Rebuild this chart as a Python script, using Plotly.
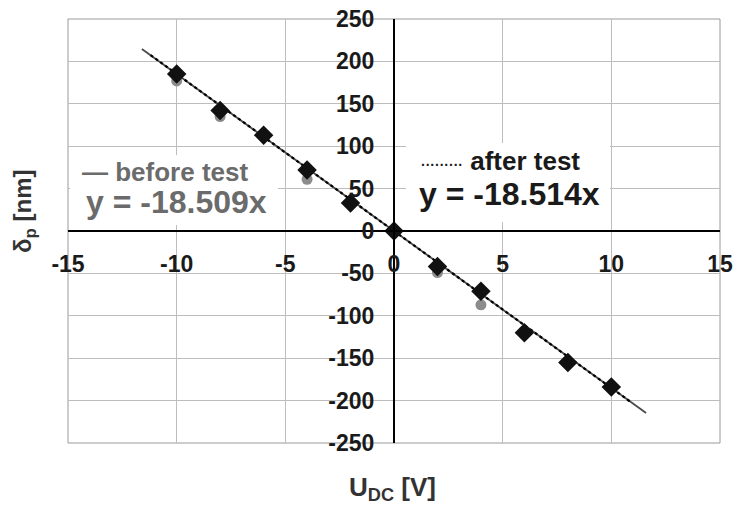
import plotly.graph_objects as go

# ---- data ----
u_dc = [-10, -8, -6, -4, -2, 0, 2, 4, 6, 8, 10]
before_test = [177, 135, 112, 61, 34, 0, -49, -87, -118, -155, -185]
after_test = [185, 142, 113, 72, 33, 0, -42, -71, -120, -155, -184]
before_slope = -18.509
after_slope = -18.514
before_fit_x = [-11.6, 11.6]
after_fit_x = [-11.2, 10.9]
x_ticks = [-15, -10, -5, 0, 5, 10, 15]
y_ticks = [-250, -200, -150, -100, -50, 0, 50, 100, 150, 200, 250]

FONT = "Liberation Sans, Arial, sans-serif"

fig = go.Figure()

fig.add_trace(go.Scatter(
    x=before_fit_x, y=[before_slope * v for v in before_fit_x],
    mode="lines", line=dict(color="#4a4a4a", width=1.8), showlegend=False))
fig.add_trace(go.Scatter(
    x=after_fit_x, y=[after_slope * v for v in after_fit_x],
    mode="lines", line=dict(color="#000000", width=2.2, dash="dot"), showlegend=False))
fig.add_trace(go.Scatter(
    x=u_dc, y=before_test, mode="markers",
    marker=dict(symbol="circle", size=11, color="#8c8c8c"), showlegend=False))
fig.add_trace(go.Scatter(
    x=u_dc, y=after_test, mode="markers",
    marker=dict(symbol="diamond", size=15, color="#111111"), showlegend=False))

def px_x(px):
    return (px - 68) / 652.0

def px_y(py):
    return (443 - py) / 424.0

shapes = [
    dict(type="rect", xref="paper", yref="paper", x0=0, x1=1, y0=0, y1=1,
         line=dict(color="#9a9a9a", width=1), layer="below"),
    dict(type="rect", xref="paper", yref="paper", x0=px_x(70), x1=px_x(278),
         y0=px_y(225), y1=px_y(155), fillcolor="white", line=dict(width=0), layer="above"),
    dict(type="rect", xref="paper", yref="paper", x0=px_x(406), x1=px_x(610),
         y0=px_y(222), y1=px_y(143), fillcolor="white", line=dict(width=0), layer="above"),
]

annotations = [
    dict(text="\u2014 before test", x=px_x(80), y=px_y(172), xref="paper", yref="paper",
         xanchor="left", yanchor="middle", showarrow=False,
         font=dict(family=FONT, size=26, color="#6b6b6b", weight="bold")),
    dict(text="y = -18.509x", x=px_x(84), y=px_y(202), xref="paper", yref="paper",
         xanchor="left", yanchor="middle", showarrow=False,
         font=dict(family=FONT, size=32, color="#6b6b6b", weight="bold")),
    dict(text="<span style='font-size:14px'>\u00b7\u00b7\u00b7\u00b7\u00b7\u00b7\u00b7\u00b7\u00b7</span> after test",
         x=px_x(419), y=px_y(161), xref="paper", yref="paper",
         xanchor="left", yanchor="middle", showarrow=False,
         font=dict(family=FONT, size=26, color="#1a1a1a", weight="bold")),
    dict(text="y = -18.514x", x=px_x(417), y=px_y(194), xref="paper", yref="paper",
         xanchor="left", yanchor="middle", showarrow=False,
         font=dict(family=FONT, size=32, color="#1a1a1a", weight="bold")),
    dict(text="\u03b4<sub>p</sub> [nm]", x=px_x(24), y=px_y(212), xref="paper", yref="paper",
         xanchor="center", yanchor="middle", textangle=-90, showarrow=False,
         font=dict(family=FONT, size=24, color="#333333", weight="bold")),
    dict(text="U<sub>DC</sub> [V]", x=px_x(392), y=px_y(488), xref="paper", yref="paper",
         xanchor="center", yanchor="middle", showarrow=False,
         font=dict(family=FONT, size=26, color="#333333", weight="bold")),
]

fig.update_layout(
    width=733, height=509,
    margin=dict(l=68, r=13, t=19, b=66, autoexpand=False),
    paper_bgcolor="white", plot_bgcolor="white",
    shapes=shapes, annotations=annotations,
    xaxis=dict(range=[-15, 15], tickvals=x_ticks, ticktext=[str(v) for v in x_ticks],
               anchor="free", position=0.5, automargin=False,
               showline=True, linecolor="black", linewidth=2,
               showgrid=True, gridcolor="#bdbdbd", gridwidth=1, zeroline=False,
               ticks="", ticklabelstandoff=12,
               tickfont=dict(family=FONT, size=23, color="#1a1a1a", weight="bold")),
    yaxis=dict(range=[-250, 250], tickvals=y_ticks, ticktext=[str(v) for v in y_ticks],
               anchor="free", position=0.5, automargin=False,
               showline=True, linecolor="black", linewidth=2,
               showgrid=True, gridcolor="#bdbdbd", gridwidth=1, zeroline=False,
               ticks="", ticklabelstandoff=14,
               tickfont=dict(family=FONT, size=23, color="#1a1a1a", weight="bold")),
)

fig.write_html("out.html", config={"displayModeBar": False},
               post_script="document.body.style.margin='0';document.body.style.overflow='hidden';")
